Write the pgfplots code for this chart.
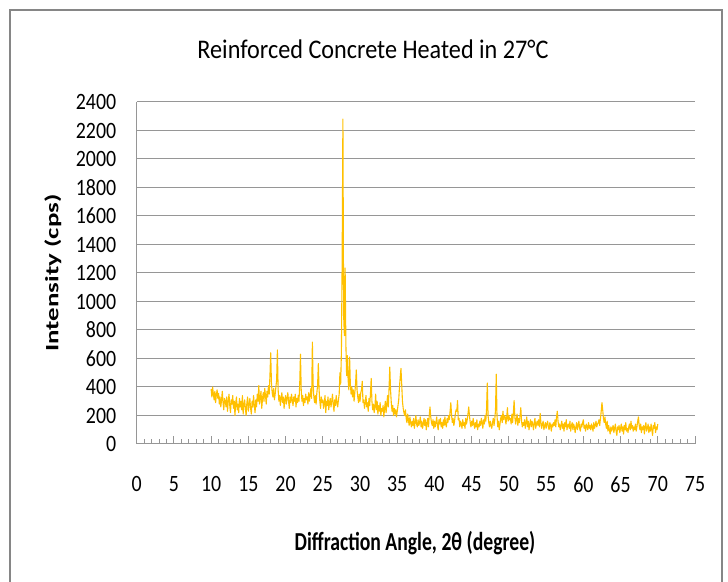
\documentclass[border=0pt]{standalone}
\usepackage{fontspec}
\setmainfont{Carlito}
\newfontfamily\tickf{Carlito}[FakeStretch=0.85]
\newfontfamily\xlabf{Carlito}[FakeStretch=0.76]
\newfontfamily\titlef{Carlito}[FakeStretch=0.9]
\usepackage{pgfplots}
\pgfplotsset{compat=1.18}
\definecolor{xrd}{RGB}{255,192,0}
\definecolor{gridc}{RGB}{150,150,150}
\definecolor{framec}{RGB}{134,134,134}
\begin{document}
\begin{tikzpicture}[x=1bp,y=1bp]
\useasboundingbox (0,0) rectangle (728,582);
\draw[draw=framec, line width=2bp] (10,-5) -- (10,572) -- (722,572) -- (722,-5);
\node[anchor=base, font=\titlef\fontsize{27}{27}\selectfont] at (373,523) {Reinforced Concrete Heated in 27°C};
\node[anchor=base, font=\xlabf\bfseries\fontsize{26}{26}\selectfont] at (415,31) {Diffraction Angle, 2θ (degree)};
\begin{scope}[shift={(58.3,309)}, xscale=0.7]
\node[rotate=90, anchor=base, transform shape, font=\bfseries\fontsize{27}{27}\selectfont] at (0,0) {Intensity (cps)};
\end{scope}
\begin{axis}[
  at={(136.7bp,138bp)}, anchor=south west,
  scale only axis, width=558.3bp, height=342bp,
  xmin=0, xmax=75, ymin=0, ymax=2400,
  axis lines=left,
  axis line style={-, draw=gridc, line width=1bp},
  xtick={0,5,...,75},
  minor xtick={0,1,...,75},
  ytick={0,200,...,2400},
  ymajorgrids,
  major grid style={draw=gridc, line width=1bp},
  xtick align=inside,
  major tick length=8bp, minor tick length=5bp,
  tick style={draw=gridc, line width=1bp},
  ytick style={draw=none},
  scaled ticks=false,
  /pgf/number format/1000 sep={},
  /pgf/number format/assume math mode=true,
  ticklabel style={font=\tickf\fontsize{23.5}{23.5}\selectfont, text=black},
  xticklabel style={yshift=-29bp},
  yticklabel style={xshift=-13bp},
]
\addplot[draw=xrd, line width=1.1bp, mark=none, line join=round] coordinates {
(10.0,385)(10.1,330)(10.2,400)(10.3,350)(10.4,310)(10.5,370)(10.6,290)(10.7,345)(10.8,380)(10.9,320)
(11.0,355)(11.1,280)(11.2,330)(11.3,260)(11.4,310)(11.5,370)(11.6,290)(11.7,240)(11.8,320)(11.9,300)
(12.0,260)(12.1,330)(12.2,230)(12.3,300)(12.4,350)(12.5,270)(12.6,220)(12.7,310)(12.8,280)(12.9,340)
(13.0,250)(13.1,300)(13.2,200)(13.3,290)(13.4,330)(13.5,240)(13.6,280)(13.7,220)(13.8,320)(13.9,260)
(14.0,300)(14.1,240)(14.2,340)(14.3,210)(14.4,280)(14.5,310)(14.6,250)(14.7,200)(14.8,290)(14.9,330)
(15.0,230)(15.1,280)(15.2,320)(15.3,250)(15.4,210)(15.5,300)(15.6,260)(15.7,340)(15.8,270)(15.9,220)
(16.0,310)(16.1,260)(16.2,350)(16.3,300)(16.4,410)(16.5,280)(16.6,330)(16.7,370)(16.8,250)(16.9,320)
(17.0,360)(17.1,300)(17.2,390)(17.3,340)(17.4,280)(17.5,370)(17.6,330)(17.7,410)(17.8,350)(17.9,480)
(18.0,640)(18.1,430)(18.2,360)(18.3,330)(18.4,390)(18.5,310)(18.6,350)(18.7,400)(18.8,450)(18.9,660)
(19.0,380)(19.1,300)(19.2,340)(19.3,270)(19.4,320)(19.5,360)(19.6,290)(19.7,330)(19.8,250)(19.9,310)
(20.0,340)(20.1,280)(20.2,320)(20.3,360)(20.4,300)(20.5,250)(20.6,330)(20.7,290)(20.8,350)(20.9,310)
(21.0,270)(21.1,330)(21.2,300)(21.3,350)(21.4,260)(21.5,320)(21.6,290)(21.7,340)(21.8,300)(21.9,420)
(22.0,630)(22.1,380)(22.2,300)(22.3,340)(22.4,270)(22.5,320)(22.6,290)(22.7,350)(22.8,310)(22.9,330)
(23.0,280)(23.1,360)(23.2,300)(23.3,340)(23.4,390)(23.5,320)(23.6,715)(23.7,420)(23.8,330)(23.9,290)
(24.0,340)(24.1,280)(24.2,360)(24.3,410)(24.4,565)(24.5,380)(24.6,300)(24.7,250)(24.8,330)(24.9,290)
(25.0,310)(25.1,250)(25.2,290)(25.3,340)(25.4,220)(25.5,300)(25.6,270)(25.7,330)(25.8,240)(25.9,290)
(26.0,320)(26.1,260)(26.2,300)(26.3,350)(26.4,280)(26.5,230)(26.6,310)(26.7,270)(26.8,340)(26.9,290)
(27.0,260)(27.1,310)(27.2,350)(27.3,500)(27.4,420)(27.5,650)(27.6,1300)(27.7,2280)(27.8,900)(27.9,760)
(28.0,1235)(28.1,700)(28.2,480)(28.3,620)(28.4,450)(28.5,380)(28.6,610)(28.7,420)(28.8,350)(28.9,400)
(29.0,330)(29.1,380)(29.2,300)(29.3,360)(29.4,420)(29.5,520)(29.6,380)(29.7,330)(29.8,290)(29.9,350)
(30.0,300)(30.1,360)(30.2,380)(30.3,440)(30.4,290)(30.5,310)(30.6,250)(30.7,290)(30.8,340)(30.9,260)
(31.0,290)(31.1,230)(31.2,320)(31.3,270)(31.4,350)(31.5,460)(31.6,300)(31.7,240)(31.8,280)(31.9,220)
(32.0,260)(32.1,350)(32.2,240)(32.3,300)(32.4,210)(32.5,270)(32.6,230)(32.7,290)(32.8,200)(32.9,250)
(33.0,230)(33.1,270)(33.2,190)(33.3,250)(33.4,300)(33.5,220)(33.6,280)(33.7,340)(33.8,260)(33.9,390)
(34.0,540)(34.1,380)(34.2,290)(34.3,230)(34.4,270)(34.5,200)(34.6,250)(34.7,210)(34.8,240)(34.9,190)
(35.0,230)(35.1,270)(35.2,310)(35.3,400)(35.4,470)(35.5,530)(35.6,420)(35.7,300)(35.8,250)(35.9,220)
(36.0,200)(36.1,240)(36.2,180)(36.3,150)(36.4,210)(36.5,170)(36.6,130)(36.7,190)(36.8,150)(36.9,120)
(37.0,160)(37.1,130)(37.2,180)(37.3,110)(37.4,150)(37.5,200)(37.6,140)(37.7,120)(37.8,170)(37.9,130)
(38.0,150)(38.1,190)(38.2,120)(38.3,160)(38.4,110)(38.5,140)(38.6,180)(38.7,130)(38.8,170)(38.9,100)
(39.0,140)(39.1,180)(39.2,120)(39.3,200)(39.4,260)(39.5,190)(39.6,150)(39.7,130)(39.8,170)(39.9,110)
(40.0,160)(40.1,120)(40.2,150)(40.3,190)(40.4,130)(40.5,100)(40.6,170)(40.7,140)(40.8,180)(40.9,120)
(41.0,150)(41.1,110)(41.2,170)(41.3,130)(41.4,190)(41.5,140)(41.6,120)(41.7,180)(41.8,150)(41.9,200)
(42.0,170)(42.1,230)(42.2,290)(42.3,200)(42.4,150)(42.5,180)(42.6,130)(42.7,160)(42.8,210)(42.9,240)
(43.0,230)(43.1,305)(43.2,170)(43.3,180)(43.4,120)(43.5,160)(43.6,140)(43.7,110)(43.8,170)(43.9,130)
(44.0,150)(44.1,110)(44.2,180)(44.3,140)(44.4,170)(44.5,210)(44.6,260)(44.7,200)(44.8,150)(44.9,120)
(45.0,160)(45.1,130)(45.2,180)(45.3,140)(45.4,110)(45.5,150)(45.6,120)(45.7,170)(45.8,100)(45.9,140)
(46.0,120)(46.1,160)(46.2,130)(46.3,180)(46.4,150)(46.5,110)(46.6,170)(46.7,140)(46.8,200)(46.9,160)
(47.0,250)(47.1,428)(47.2,200)(47.3,150)(47.4,120)(47.5,160)(47.6,130)(47.7,110)(47.8,150)(47.9,180)
(48.0,130)(48.1,170)(48.2,240)(48.3,490)(48.4,200)(48.5,120)(48.6,160)(48.7,100)(48.8,140)(48.9,180)
(49.0,200)(49.1,150)(49.2,230)(49.3,170)(49.4,200)(49.5,190)(49.6,140)(49.7,180)(49.8,255)(49.9,160)
(50.0,200)(50.1,170)(50.2,180)(50.3,140)(50.4,210)(50.5,150)(50.6,220)(50.7,305)(50.8,190)(50.9,140)
(51.0,170)(51.1,210)(51.2,130)(51.3,180)(51.4,150)(51.5,200)(51.6,255)(51.7,160)(51.8,120)(51.9,150)
(52.0,130)(52.1,170)(52.2,110)(52.3,150)(52.4,190)(52.5,120)(52.6,160)(52.7,100)(52.8,140)(52.9,170)
(53.0,120)(53.1,160)(53.2,140)(53.3,100)(53.4,150)(53.5,180)(53.6,110)(53.7,140)(53.8,160)(53.9,130)
(54.0,170)(54.1,120)(54.2,215)(54.3,150)(54.4,110)(54.5,140)(54.6,160)(54.7,100)(54.8,130)(54.9,150)
(55.0,110)(55.1,140)(55.2,160)(55.3,120)(55.4,100)(55.5,150)(55.6,130)(55.7,90)(55.8,140)(55.9,120)
(56.0,150)(56.1,130)(56.2,170)(56.3,120)(56.4,190)(56.5,230)(56.6,160)(56.7,120)(56.8,140)(56.9,100)
(57.0,130)(57.1,160)(57.2,110)(57.3,140)(57.4,90)(57.5,150)(57.6,120)(57.7,170)(57.8,100)(57.9,130)
(58.0,140)(58.1,110)(58.2,160)(58.3,90)(58.4,130)(58.5,150)(58.6,100)(58.7,140)(58.8,120)(58.9,80)
(59.0,120)(59.1,150)(59.2,100)(59.3,130)(59.4,160)(59.5,110)(59.6,90)(59.7,140)(59.8,120)(59.9,150)
(60.0,170)(60.1,110)(60.2,130)(60.3,90)(60.4,140)(60.5,120)(60.6,100)(60.7,150)(60.8,110)(60.9,130)
(61.0,100)(61.1,140)(61.2,120)(61.3,90)(61.4,150)(61.5,110)(61.6,130)(61.7,160)(61.8,120)(61.9,140)
(62.0,150)(62.1,170)(62.2,130)(62.3,180)(62.4,230)(62.5,290)(62.6,240)(62.7,180)(62.8,150)(62.9,190)
(63.0,140)(63.1,110)(63.2,160)(63.3,90)(63.4,130)(63.5,100)(63.6,70)(63.7,120)(63.8,90)(63.9,110)
(64.0,130)(64.1,80)(64.2,110)(64.3,140)(64.4,90)(64.5,60)(64.6,120)(64.7,100)(64.8,130)(64.9,80)
(65.0,110)(65.1,140)(65.2,90)(65.3,120)(65.4,70)(65.5,130)(65.6,100)(65.7,150)(65.8,90)(65.9,110)
(66.0,80)(66.1,120)(66.2,140)(66.3,100)(66.4,160)(66.5,110)(66.6,130)(66.7,90)(66.8,120)(66.9,100)
(67.0,140)(67.1,90)(67.2,120)(67.3,160)(67.4,190)(67.5,130)(67.6,100)(67.7,140)(67.8,80)(67.9,120)
(68.0,100)(68.1,130)(68.2,70)(68.3,120)(68.4,150)(68.5,90)(68.6,110)(68.7,140)(68.8,80)(68.9,120)
(69.0,90)(69.1,140)(69.2,100)(69.3,60)(69.4,130)(69.5,110)(69.6,150)(69.7,80)(69.8,120)(69.9,100)
(70.0,140)
};
\end{axis}
\end{tikzpicture}
\end{document}
